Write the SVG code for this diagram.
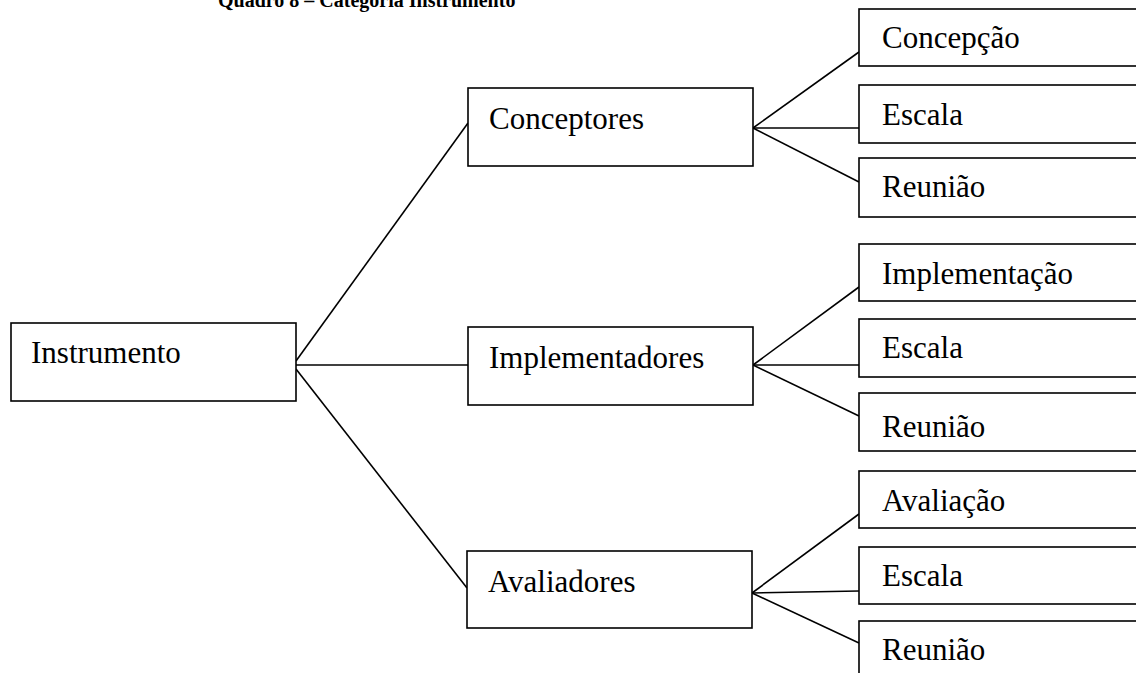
<svg xmlns="http://www.w3.org/2000/svg" width="1136" height="673" viewBox="0 0 1136 673">
<style>
.box{fill:#fff;stroke:#000;stroke-width:1.6}
.lbl{font-family:"Liberation Serif","Times New Roman",serif;font-size:31px;fill:#000}
.ttl{font-family:"Liberation Serif","Times New Roman",serif;font-size:20px;font-weight:bold;fill:#000}
.edge{stroke:#000;stroke-width:1.6;fill:none}
</style>
<rect width="1136" height="673" fill="#fff"/>
<text class="ttl" x="218" y="7">Quadro 8 – Categoria Instrumento</text>
<g id="connectors">
<line class="edge" x1="296" y1="361" x2="468" y2="123"/>
<line class="edge" x1="296" y1="365" x2="468" y2="365"/>
<line class="edge" x1="296" y1="369" x2="467" y2="588"/>
<line class="edge" x1="753" y1="128" x2="859" y2="52"/>
<line class="edge" x1="753" y1="128" x2="859" y2="128"/>
<line class="edge" x1="753" y1="128" x2="859" y2="182"/>
<line class="edge" x1="753" y1="365" x2="859" y2="287"/>
<line class="edge" x1="753" y1="365" x2="859" y2="365"/>
<line class="edge" x1="753" y1="365" x2="859" y2="416"/>
<line class="edge" x1="752" y1="593" x2="859" y2="514"/>
<line class="edge" x1="752" y1="593" x2="859" y2="591"/>
<line class="edge" x1="752" y1="593" x2="859" y2="643"/>
</g>
<g id="instrumento"><rect class="box" x="11" y="323" width="285" height="78"/><text class="lbl" x="31" y="363">Instrumento</text></g>
<g id="conceptores"><rect class="box" x="468" y="88" width="285" height="78"/><text class="lbl" x="489" y="129">Conceptores</text></g>
<g id="implementadores"><rect class="box" x="468" y="327" width="285" height="78"/><text class="lbl" x="489" y="368">Implementadores</text></g>
<g id="avaliadores"><rect class="box" x="467" y="551" width="285" height="77"/><text class="lbl" x="488" y="592">Avaliadores</text></g>
<g id="concepcao"><rect class="box" x="859" y="9" width="290" height="57"/><text class="lbl" x="882" y="48">Concepção</text></g>
<g id="escala1"><rect class="box" x="859" y="85" width="290" height="58"/><text class="lbl" x="882" y="125">Escala</text></g>
<g id="reuniao1"><rect class="box" x="859" y="158" width="290" height="59"/><text class="lbl" x="882" y="197">Reunião</text></g>
<g id="implementacao"><rect class="box" x="859" y="244" width="290" height="57"/><text class="lbl" x="882" y="284">Implementação</text></g>
<g id="escala2"><rect class="box" x="859" y="319" width="290" height="58"/><text class="lbl" x="882" y="358">Escala</text></g>
<g id="reuniao2"><rect class="box" x="859" y="393" width="290" height="58"/><text class="lbl" x="882" y="437">Reunião</text></g>
<g id="avaliacao"><rect class="box" x="859" y="471" width="290" height="57"/><text class="lbl" x="882" y="511">Avaliação</text></g>
<g id="escala3"><rect class="box" x="859" y="547" width="290" height="57"/><text class="lbl" x="882" y="586">Escala</text></g>
<g id="reuniao3"><rect class="box" x="859" y="621" width="290" height="60"/><text class="lbl" x="882" y="660">Reunião</text></g>
</svg>
